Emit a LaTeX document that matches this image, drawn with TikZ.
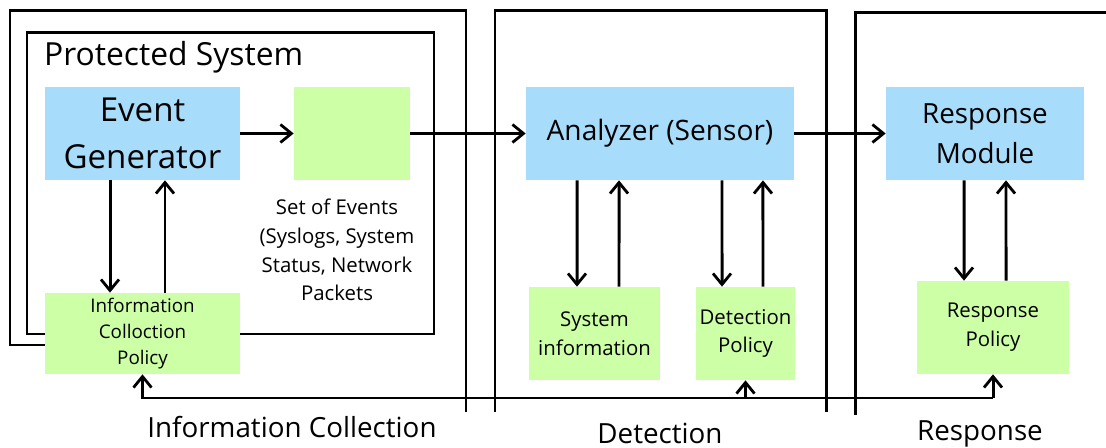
\documentclass[tikz,border=0pt]{standalone}
\usepackage{fontspec}
\setmainfont{Open Sans}
\usepackage{tikz}
\usetikzlibrary{arrows.meta,positioning}

\definecolor{boxblue}{RGB}{168,220,251}
\definecolor{boxgreen}{RGB}{204,255,166}

\begin{document}
\begin{tikzpicture}[x=0.02cm,y=-0.02cm,
  frame/.style={line width=1.7pt},
  arr/.style={line width=1.7pt,-{Straight Barb[length=2.2mm,width=3.6mm,line width=1.6pt]}},
  bluebox/.style={fill=boxblue,minimum height=1.86cm,inner sep=0pt,align=center},
  greenbox/.style={fill=boxgreen,minimum height=1.86cm,inner sep=0pt,align=center,font=\fontsize{11.6}{16.4}\selectfont},
  zonelbl/.style={anchor=base,font=\fontsize{15.8}{19}\selectfont}]
\useasboundingbox (0,0) rectangle (1106,448);
% frames
\draw[frame] (60,345) -- (10,345) -- (10,11) -- (466,11) -- (466,412);
\draw[frame] (27,33) rectangle (434,334);
\draw[frame] (495,412) -- (495,11) -- (826,11) -- (826,412);
\draw[frame] (855,415) -- (855,13) -- (1110,13);
% information collection
\node[anchor=west,font=\fontsize{18.1}{22}\selectfont] (pslbl) at (38,57) {Protected System};
\node[bluebox,minimum width=3.9cm,font=\fontsize{18.8}{27}\selectfont] (eg) at (142.5,133.5) {Event\\Generator};
\node[greenbox,minimum width=2.32cm] (ev) at (352,133.5) {};
\node[align=center,font=\fontsize{11.6}{16.4}\selectfont] (evlbl) at (337,250) {Set of Events\\(Syslogs, System\\Status, Network\\Packets};
\node[greenbox,minimum width=3.9cm,minimum height=1.62cm,font=\fontsize{10.7}{14.7}\selectfont] (icp) at (142.5,333.5) {Information\\Colloction\\Policy};
% detection
\node[bluebox,minimum width=5.36cm,font=\fontsize{16}{20}\selectfont] (an) at (660,133.5) {Analyzer (Sensor)};
\node[greenbox,minimum width=2.62cm] (si) at (594.5,333.5) {System\\information};
\node[greenbox,minimum width=1.98cm] (dp) at (745.5,333.5) {Detection\\Policy};
% response
\node[bluebox,minimum width=3.96cm,font=\fontsize{15.8}{22.7}\selectfont] (rm) at (985,133.5) {Response\\Module};
\node[greenbox,minimum width=3.04cm] (rp) at (993,327.5) {Response\\Policy};
% zone labels
\node[zonelbl] (iclbl) at (292,438) {Information Collection};
\node[zonelbl] (dtlbl) at (660,444) {Detection};
\node[zonelbl] (rslbl) at (980,441) {Response};
% connectors
\draw[arr] (eg.east) -- (ev.west);
\draw[arr] (ev.east) -- (an.west);
\draw[arr] (an.east) -- (rm.west);
\draw[arr] ([xshift=-0.65cm]eg.south) -- ([xshift=-0.65cm]icp.north);
\draw[arr] ([xshift=0.45cm]icp.north) -- ([xshift=0.45cm]eg.south);
\draw[arr] ([xshift=-1.66cm]an.south) -- ([xshift=-0.35cm]si.north);
\draw[arr] ([xshift=0.49cm]si.north) -- ([xshift=-0.82cm]an.south);
\draw[arr] ([xshift=1.24cm]an.south) -- ([xshift=-0.47cm]dp.north);
\draw[arr] ([xshift=0.35cm]dp.north) -- ([xshift=2.06cm]an.south);
\draw[arr] ([xshift=-0.42cm]rm.south) -- ([xshift=-0.58cm]rp.north);
\draw[arr] ([xshift=0.26cm]rp.north) -- ([xshift=0.42cm]rm.south);
% feedback bus
\coordinate (bus) at (0,398);
\draw[arr] (rp.south |- bus) -| (icp.south);
\draw[arr] (dp.south |- bus) -- (dp.south);
\draw[arr] (rp.south |- bus) -- (rp.south);
\end{tikzpicture}
\end{document}
